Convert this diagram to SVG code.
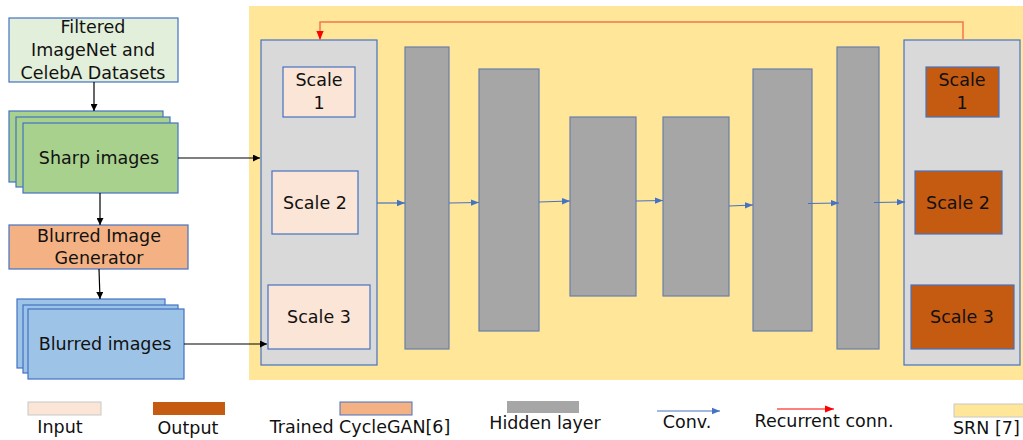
<svg xmlns="http://www.w3.org/2000/svg" width="1023" height="440" viewBox="0 0 1023 440">
<defs>
<marker id="ab" viewBox="0 0 10 10" refX="10" refY="5" markerWidth="7" markerHeight="7" markerUnits="userSpaceOnUse" orient="auto"><path d="M0,0 L10,5 L0,10 z" fill="#000"/></marker>
<marker id="au" viewBox="0 0 10 10" refX="10" refY="5" markerWidth="8" markerHeight="8" markerUnits="userSpaceOnUse" orient="auto"><path d="M0,1 L10,5 L0,9 z" fill="#4472C4"/></marker>
<marker id="ar" viewBox="0 0 10 10" refX="10" refY="5" markerWidth="9" markerHeight="9" markerUnits="userSpaceOnUse" orient="auto"><path d="M0,1 L10,5 L0,9 z" fill="#FF0000"/></marker>
</defs>
<style>
text{font-family:"DejaVu Sans","Open Sans",sans-serif;font-size:17.5px;fill:#111;text-anchor:middle}
.b{stroke:#4472C4;stroke-width:1.2}
.pan{fill:#D9D9D9}
.hid{fill:#A6A6A6;stroke:#6A7FA8;stroke-width:1.2}
.in{fill:#FBE5D6}
.out{fill:#C55A11}
.blk{stroke:#000;stroke-width:1.2;fill:none}
.cv{stroke:#4472C4;stroke-width:1.2;fill:none}
.lg{text-anchor:start}
</style>
<rect width="1023" height="440" fill="#fff"/>
<g id="srn">
<rect x="249" y="6" width="780" height="374" fill="#FFE699"/>
</g>
<g id="filtered">
<rect class="b" x="9" y="18" width="169" height="64" fill="#E2EFDA"/>
<text x="93" y="33">Filtered</text>
<text x="93" y="56">ImageNet and</text>
<text x="93" y="79">CelebA Datasets</text>
</g>
<g id="sharp">
<rect class="b" x="9" y="111" width="154" height="71" fill="#A9D18E"/>
<rect class="b" x="16" y="117" width="154" height="70" fill="#A9D18E"/>
<rect class="b" x="23" y="123" width="155" height="70" fill="#A9D18E"/>
<text x="99" y="164">Sharp images</text>
</g>
<g id="generator">
<rect class="b" x="9" y="225" width="179" height="44" fill="#F4B183"/>
<text x="99" y="242">Blurred Image</text>
<text x="99" y="264">Generator</text>
</g>
<g id="blurred">
<rect class="b" x="17" y="299" width="148" height="69" fill="#9DC3E6"/>
<rect class="b" x="23" y="305" width="155" height="68" fill="#9DC3E6"/>
<rect class="b" x="28" y="309" width="156" height="70" fill="#9DC3E6"/>
<text x="105" y="350">Blurred images</text>
</g>
<g id="input-panel">
<rect class="pan b" x="261" y="40" width="116" height="325"/>
<rect class="in b" x="283" y="67" width="72" height="50"/>
<text x="319" y="86">Scale</text>
<text x="319" y="109">1</text>
<rect class="in b" x="272" y="171" width="86" height="63"/>
<text x="315" y="209">Scale 2</text>
<rect class="in b" x="268" y="285" width="102" height="64"/>
<text x="319" y="323">Scale 3</text>
</g>
<g id="hidden1"><rect class="hid" x="405" y="47" width="44" height="302"/></g>
<g id="hidden2"><rect class="hid" x="479" y="69" width="60" height="262"/></g>
<g id="hidden3"><rect class="hid" x="570" y="117" width="66" height="179"/></g>
<g id="hidden4"><rect class="hid" x="663" y="117" width="66" height="179"/></g>
<g id="hidden5"><rect class="hid" x="753" y="69" width="59" height="262"/></g>
<g id="hidden6"><rect class="hid" x="837" y="47" width="42" height="302"/></g>
<g id="output-panel">
<rect class="pan b" x="904" y="40" width="116" height="325"/>
<rect class="out b" x="926" y="67" width="73" height="50"/>
<text x="962" y="86">Scale</text>
<text x="962" y="109">1</text>
<rect class="out b" x="915" y="171" width="87" height="63"/>
<text x="958" y="209">Scale 2</text>
<rect class="out b" x="911" y="285" width="103" height="64"/>
<text x="962" y="323">Scale 3</text>
</g>
<g id="connectors">
<line class="blk" x1="94" y1="82" x2="94" y2="111" marker-end="url(#ab)"/>
<line class="blk" x1="178" y1="158" x2="260" y2="158" marker-end="url(#ab)"/>
<line class="blk" x1="100" y1="193" x2="100" y2="225" marker-end="url(#ab)"/>
<line class="blk" x1="99" y1="269" x2="100" y2="299" marker-end="url(#ab)"/>
<line class="blk" x1="184" y1="344" x2="267" y2="344" marker-end="url(#ab)"/>
<line class="cv" x1="377" y1="203" x2="405" y2="203" marker-end="url(#au)"/>
<line class="cv" x1="449" y1="203" x2="479" y2="202.5" marker-end="url(#au)"/>
<line class="cv" x1="539" y1="202" x2="570" y2="201" marker-end="url(#au)"/>
<line class="cv" x1="636" y1="201" x2="663" y2="200.5" marker-end="url(#au)"/>
<line class="cv" x1="729" y1="206" x2="753" y2="205" marker-end="url(#au)"/>
<line class="cv" x1="808" y1="203.5" x2="839" y2="203" marker-end="url(#au)"/>
<line class="cv" x1="874" y1="202.5" x2="905" y2="202" marker-end="url(#au)"/>
<polyline points="963,40 963,22 320,22 320,40" fill="none" stroke="#F4784A" stroke-width="1.5" marker-end="url(#ar)"/>
</g>
<g id="legend">
<rect x="28" y="402" width="73" height="13" fill="#FBE5D6" stroke="#C8C8C8"/>
<text x="60" y="433">Input</text>
<rect x="153" y="402" width="72" height="13" fill="#C55A11"/>
<text x="188" y="434">Output</text>
<rect x="340" y="402" width="72" height="13" fill="#F4B183" stroke="#4472C4"/>
<text x="360" y="433">Trained CycleGAN[6]</text>
<rect x="507" y="401" width="72" height="12" fill="#A6A6A6"/>
<text x="545" y="429">Hidden layer</text>
<line x1="657" y1="411" x2="720" y2="411" stroke="#4472C4" stroke-width="1.2" marker-end="url(#au)"/>
<text x="687" y="428">Conv.</text>
<line x1="777" y1="409" x2="834" y2="409" stroke="#FF0000" stroke-width="1.2" marker-end="url(#ar)"/>
<text x="824" y="427">Recurrent conn.</text>
<rect x="954" y="404" width="80" height="13" fill="#FFE699" stroke="#C8C8C8"/>
<text class="lg" x="953" y="434">SRN [7]</text>
</g>
</svg>
